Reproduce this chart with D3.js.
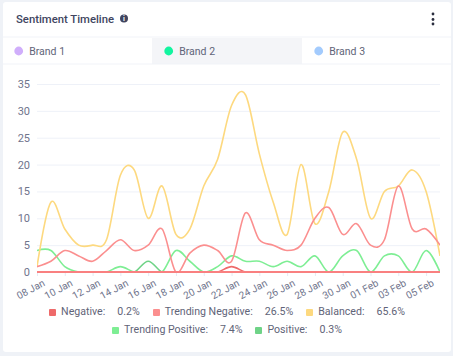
<!DOCTYPE html>
<html>
<head>
<meta charset="utf-8">
<script src="https://cdn.jsdelivr.net/npm/d3@7"></script>
<style>
	html, body { margin: 0; padding: 0; }
	body { width: 453px; height: 356px; background: #eff2f7; position: relative; overflow: hidden; font-family: Roboto, sans-serif; }
	#card { position: absolute; left: 3px; top: 2px; width: 448px; height: 350px; background: #fff; border-radius: 3px; }
	#graphic { position: absolute; left: 0; top: 0; }
	.y.axis text, .x.axis text { font-family: Roboto, sans-serif; fill: #6f748c; }
	.y.axis text { font-size: 11px; }
	.x.axis text { font-size: 10px; }
	.y.axis line { stroke: #eef1f8; }
	.x.axis line { stroke: #e6e9f2; }
	.domain { display: none; }
	#legend { position: absolute; left: 47px; top: 303px; width: 360px; display: flex; flex-wrap: wrap; justify-content: center; column-gap: 13px; font-size: 10.6px; color: #5f6478; line-height: 18px; }
	.legend--item { display: flex; align-items: center; }
	.legend--icon { width: 7px; height: 7px; border-radius: 1px; margin-right: 5px; }
	.legend--value { margin-left: 12px; }
</style>
</head>
<body>
<div id="card"></div>
<svg id="graphic" width="453" height="356"></svg>
<div id="legend"></div>
<script>
const dates = ['08 Jan','09 Jan','10 Jan','11 Jan','12 Jan','13 Jan','14 Jan','15 Jan','16 Jan','17 Jan','18 Jan','19 Jan','20 Jan','21 Jan','22 Jan','23 Jan','24 Jan','25 Jan','26 Jan','27 Jan','28 Jan','29 Jan','30 Jan','31 Jan','01 Feb','02 Feb','03 Feb','04 Feb','05 Feb','06 Feb'];
const negative = [0,0,0,0,0,0,0,0,0,0,0,0,0,0,1,0,0,0,0,0,0,0,0,0,0,0,0,0,0,0];
const trendingNegative = [1,2,4,3,2,4,6,4,5,8,0,3.5,5,4,2,11,6,5,4,5,10,12,7,9,5,6,16,8,8,5];
const balanced = [1,13,8,5,5,6,18,19,10,16,7,8,16,21,31,33,22,13,7,20,9,15,26,21,10,15,16,19,15,3];
const trendingPositive = [4,4,1,0,0,0,1,0,0,0,4,2,0,1,3,2,2,1,2,1,3,0,3,4,0,3,3,0,4,0];
const positive = [0,0,0,0,0,0,0,0,2,0,0,0,0,0,0,0,0,0,0,0,0,0,0,0,0,0,0,0,0,0];
const brands = ['Brand 1','Brand 2','Brand 3'];
const brandColours = ['#d0aefb','#12f5a0','#a3cbfd'];
const legendNames = ['Negative','Trending Negative','Balanced','Trending Positive','Positive'];
const legendValues = ['0.2%','26.5%','65.6%','7.4%','0.3%'];
const legendColours = ['#ee6a6a','#fb8f8f','#fdd97f','#7eee94','#6fd387'];
const yTicks = [0,5,10,15,20,25,30,35];

const svg = d3.select('#graphic');
const margin = { left: 37, right: 13, top: 84, bottom: 84 };
const chartWidth = 453 - margin.left - margin.right;
const height = 356 - margin.top - margin.bottom;

//header
svg.append('text').attr('x', 16).attr('y', 23).attr('font-size', 11.3).attr('font-weight', 500).attr('fill', '#40455f').text('Sentiment Timeline');
svg.append('circle').attr('cx', 124).attr('cy', 18.5).attr('r', 4).attr('fill', '#40455f');
svg.append('text').attr('x', 124).attr('y', 21).attr('font-size', 7).attr('font-weight', 700).attr('text-anchor', 'middle').attr('fill', '#fff').text('i');
svg.selectAll('circle.dot').data([14, 19.5, 24]).join('circle').attr('class', 'dot')
	.attr('cx', 433).attr('cy', (d) => d).attr('r', 1.4).attr('fill', '#2b2e3f');

//tabs
svg.append('rect').attr('x', 152).attr('y', 38).attr('width', 150).attr('height', 26).attr('fill', '#f4f5f8');
svg.append('line').attr('x1', 3).attr('x2', 451).attr('y1', 37).attr('y2', 37).attr('stroke', '#f1f3f8');
svg.append('line').attr('x1', 3).attr('x2', 451).attr('y1', 64).attr('y2', 64).attr('stroke', '#f1f3f8');
const tab = svg.selectAll('g.tab').data(brands).join('g').attr('class', 'tab')
	.attr('transform', (d, i) => `translate(${18.7 + i * 150},51)`);
tab.append('circle').attr('r', 4.4).attr('fill', (d, i) => brandColours[i]);
tab.append('text').attr('x', 10.5).attr('y', 4).attr('font-size', 10.5).attr('fill', '#5f6478').text((d) => d);

//scales
const x = d3.scalePoint().domain(dates).range([0, chartWidth]);
const y = d3.scaleLinear().domain([0, 35]).range([height, 0]);

const chart = svg.append('g').attr('transform', `translate(${margin.left},${margin.top})`);

chart.append('g').attr('class', 'y axis')
	.call(d3.axisLeft(y).tickValues(yTicks).tickSize(-chartWidth).tickPadding(7))
	.selectAll('text').attr('x', -7);

chart.append('g').attr('class', 'x axis').attr('transform', `translate(0,${height})`)
	.call(d3.axisBottom(x).tickValues(dates.filter((d, i) => !(i % 2) && i < 29)).tickSize(4).tickPadding(4))
	.selectAll('text')
	.attr('text-anchor', 'end')
	.attr('dx', '0.1em')
	.attr('dy', '0.75em')
	.attr('transform', 'rotate(-28)');

const line = d3.line()
	.x((d, i) => x(dates[i]))
	.y((d) => y(d))
	.curve(d3.curveCardinal.tension(0));

chart.append('clipPath').attr('id', 'plot').append('rect')
	.attr('x', 0).attr('y', -5).attr('width', chartWidth).attr('height', height + 6);

const seriesList = [positive, trendingPositive, balanced, trendingNegative, negative];
const seriesColours = ['#6fd387', '#7eee94', '#fdd97f', '#fb8f8f', '#ee6a6a'];
chart.append('g').attr('clip-path', 'url(#plot)')
	.selectAll('path').data(seriesList).join('path')
	.attr('d', line)
	.attr('fill', 'none')
	.attr('stroke', (d, i) => seriesColours[i])
	.attr('stroke-width', 1.6);

//zero line sits over everything
chart.append('path').attr('d', d3.line().x((d, i) => x(dates[i])).y(() => y(0))(dates))
	.attr('fill', 'none').attr('stroke', '#f98080').attr('stroke-width', 2);

//legend
const legendItem = d3.select('#legend').selectAll('div.legend--item')
	.data(legendNames).join('div').attr('class', 'legend--item');
legendItem.append('div').attr('class', 'legend--icon').style('background-color', (d, i) => legendColours[i]);
legendItem.append('span').text((d) => d + ':');
legendItem.append('span').attr('class', 'legend--value').text((d, i) => legendValues[i]);
</script>
</body>
</html>
